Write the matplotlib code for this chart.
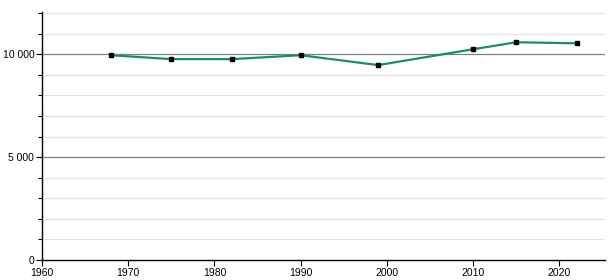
import matplotlib
matplotlib.use("Agg")
import matplotlib.pyplot as plt
from matplotlib.ticker import MultipleLocator, FuncFormatter

years = [1968, 1975, 1982, 1990, 1999, 2010, 2015, 2022]
population = [9950, 9760, 9760, 9950, 9470, 10240, 10580, 10530]

plt.rcParams['font.family'] = ['Liberation Sans', 'DejaVu Sans']

fig = plt.figure(figsize=(6.15, 2.8), dpi=100)
ax = fig.add_axes([42 / 615, 20 / 280, 563 / 615, 248 / 280])

ax.set_xlim(1960, 2025.3)
ax.set_ylim(0, 12050)

# grid: light every 1000, darker every 5000
for v in range(1000, 12001, 1000):
    if v % 5000 == 0:
        ax.axhline(v, color="#808080", lw=0.9, zorder=1)
    else:
        ax.axhline(v, color="#e2e2e2", lw=0.9, zorder=1)

ax.plot(years, population, color="#13906b", lw=1.6, zorder=3)
ax.plot(years, population, "s", color="black", ms=3.5, zorder=4)

ax.xaxis.set_major_locator(MultipleLocator(10))
ax.yaxis.set_major_locator(MultipleLocator(5000))
ax.yaxis.set_minor_locator(MultipleLocator(1000))
ax.yaxis.set_major_formatter(FuncFormatter(lambda v, p: f"{int(v):,}".replace(",", " ")))

for s in ["top", "right"]:
    ax.spines[s].set_visible(False)
for s in ["left", "bottom"]:
    ax.spines[s].set_linewidth(1.0)
    ax.spines[s].set_color("black")

ax.tick_params(axis="both", which="major", labelsize=7.5, length=4, width=0.8, pad=1.5)
ax.tick_params(axis="y", which="minor", length=3, width=0.8)

fig.savefig("out.png", dpi=100)
